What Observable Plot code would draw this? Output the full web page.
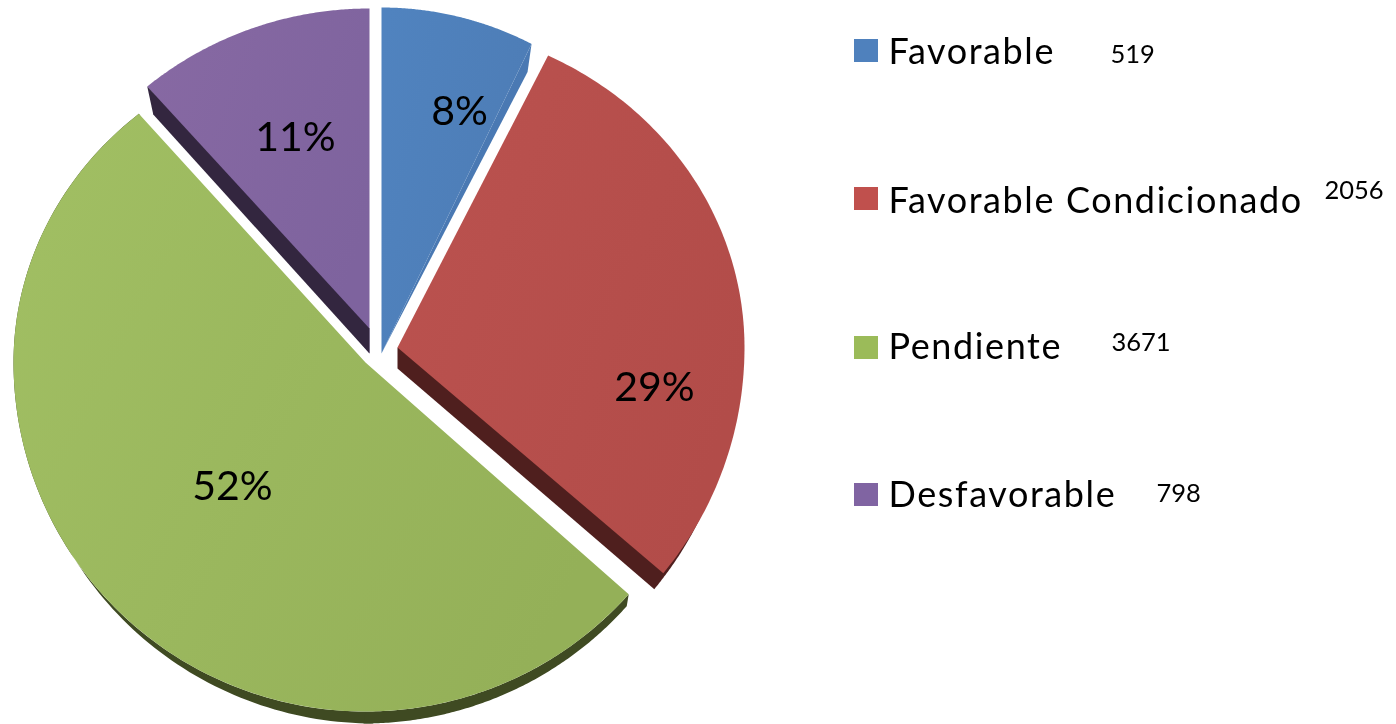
<!DOCTYPE html>
<html>
<head>
<meta charset="utf-8">
<script src="https://cdn.jsdelivr.net/npm/d3@7"></script>
<script src="https://cdn.jsdelivr.net/npm/@observablehq/plot@0.6"></script>
<style>
html,body{margin:0;padding:0;background:#fff;overflow:hidden}
svg{display:block;font-family:Lato,"Open Sans",sans-serif;filter:blur(0.55px)}
.legend-name text,.legend-name{letter-spacing:1.6px}
</style>
</head>
<body>
<div id="chart"></div>
<script>
// Data
const categories = ["Favorable", "Favorable Condicionado", "Pendiente", "Desfavorable"];
const counts = [519, 2056, 3671, 798];
const percentLabels = ["8%", "29%", "52%", "11%"];

// Styles
const colorsLight = ["#5083bf", "#bb524f", "#a1bf63", "#8769a3"];
const colorsDark = ["#4d7cb5", "#b24c49", "#94b058", "#7e639e"];
const swatchColors = ["#4f81bd", "#c0504d", "#9bbb59", "#8064a2"];
const sideColors = ["#4a79b3", "#4f1f1e", "#3f4a22", "#33263f"];

// Layout of each exploded wedge (perspective ellipse around its own apex)
const wedgeCx = [381, 397, 365, 369];
const wedgeCy = [353, 347, 362, 353];
const wedgeRx = [336, 347, 352, 351];
const wedgeRyUp = [346, 324, 325, 345];
const wedgeRyDown = [346, 351, 349, 345];
const startAdjust = [0, -0.8, 0, 1.5];
const endAdjust = [0, -1.6, 0.7, 0];

// Label layout
const percentX = [459, 654, 232, 295];
const percentY = [124, 400, 499, 150];
const swatchTop = [39, 187, 336, 483];
const legendTextY = [63, 212, 358, 506];
const legendValueX = [1110, 1324, 1111, 1156];
const legendValueY = [62, 198, 350, 501];

const arcs = d3.pie().sort(null)(counts);
const deg = Math.PI / 180;

function pointAt(i, a) {
  const c = Math.cos(a), ry = c > 0 ? wedgeRyUp[i] : wedgeRyDown[i];
  return [wedgeCx[i] + wedgeRx[i] * Math.sin(a), wedgeCy[i] - ry * c];
}
function arcPts(i, a0, a1, dx = 0, dy = 0) {
  const n = 120, out = [];
  for (let k = 0; k <= n; k++) {
    const p = pointAt(i, a0 + (a1 - a0) * k / n);
    out.push([p[0] + dx, p[1] + dy]);
  }
  return out;
}
const a0s = arcs.map((d, i) => d.startAngle + startAdjust[i] * deg);
const a1s = arcs.map((d, i) => d.endAngle + endAdjust[i] * deg);
const apex = i => [wedgeCx[i], wedgeCy[i]];
const tops = categories.map((_, i) => [apex(i), ...arcPts(i, a0s[i], a1s[i])]);

// Side faces of the extruded wedges
const blueTip = pointAt(0, a1s[0]);
const sideBlue = [apex(0), blueTip, [blueTip[0] - 4, blueTip[1] + 28]];
const sideRed = [apex(1), [wedgeCx[1], wedgeCy[1] + 21], ...arcPts(1, a1s[1], Math.PI / 2, -9, 16)];
const sideGreenRight = [...arcPts(2, a0s[2], Math.PI), ...arcPts(2, Math.PI, a0s[2], -2, 12)];
const sideGreenLeft = [...arcPts(2, Math.PI, a1s[2]), ...arcPts(2, a1s[2], Math.PI, 8, 12)];
const purpleTip = pointAt(3, a0s[3]);
const sidePurple = [purpleTip, [purpleTip[0] + 6, purpleTip[1] + 28], apex(3), [wedgeCx[3], wedgeCy[3] - 25]];

const poly = (pts, fill) => Plot.line(pts, {x: d => d[0], y: d => d[1], fill, stroke: "none", curve: "linear"});

const defs = () => {
  const d = d3.create("svg:defs");
  colorsLight.forEach((c, i) => {
    const g = d.append("linearGradient").attr("id", "wedge" + i)
      .attr("x1", 0).attr("y1", 0.1).attr("x2", 1).attr("y2", 0.6);
    g.append("stop").attr("offset", "0%").attr("stop-color", c);
    g.append("stop").attr("offset", "100%").attr("stop-color", colorsDark[i]);
  });
  return d.node();
};

const idx = d3.range(categories.length);
const chart = Plot.plot({
  width: 1396, height: 724, margin: 0,
  x: {domain: [0, 1396], range: [0, 1396], axis: null},
  y: {domain: [0, 724], range: [0, 724], axis: null},
  marks: [
    defs,
    poly(sideGreenLeft, sideColors[2]),
    poly(sideGreenRight, sideColors[2]),
    poly(sideRed, sideColors[1]),
    poly(sideBlue, sideColors[0]),
    ...tops.map((t, i) => poly(t, `url(#wedge${i})`)),
    poly(sidePurple, sideColors[3]),
    Plot.text(idx, {x: i => percentX[i], y: i => percentY[i], text: i => percentLabels[i],
      fontSize: 41, fill: "#000", lineAnchor: "bottom", textAnchor: "middle"}),
    Plot.rect(idx, {x1: () => 854, x2: () => 878, y1: i => swatchTop[i], y2: i => swatchTop[i] + 23,
      fill: i => swatchColors[i], inset: 0}),
    Plot.text(idx, {x: () => 888, y: i => legendTextY[i], text: i => categories[i],
      fontSize: 36, fill: "#000", lineAnchor: "bottom", textAnchor: "start", className: "legend-name"}),
    Plot.text(idx, {x: i => legendValueX[i], y: i => legendValueY[i], text: i => String(counts[i]),
      fontSize: 25.5, fill: "#000", lineAnchor: "bottom", textAnchor: "start"})
  ]
});
document.getElementById("chart").appendChild(chart);
</script>
</body>
</html>
